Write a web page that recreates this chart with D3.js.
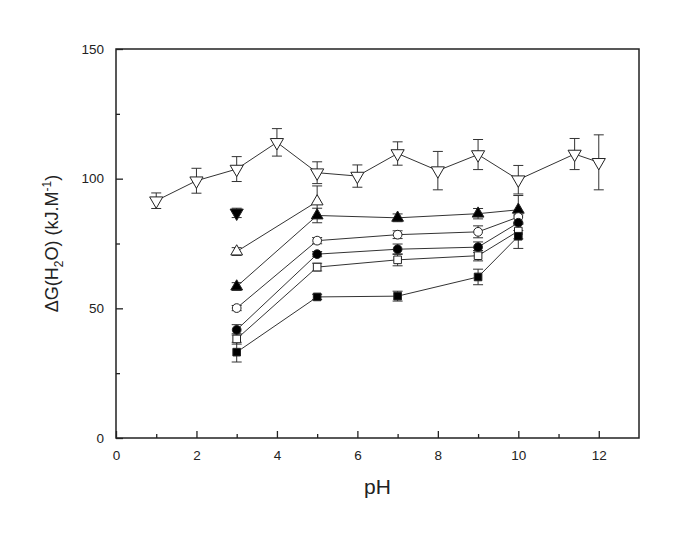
<!DOCTYPE html>
<html>
<head>
<meta charset="utf-8">
<script src="https://cdn.jsdelivr.net/npm/d3@7"></script>
<style>
  body { margin: 0; background: #fff; }
  svg { font-family: "Liberation Sans", Arial, sans-serif; }
</style>
</head>
<body>
<svg id="chart" width="685" height="541"></svg>
<script>
// ---- data ----
const openDownX   = [1, 2, 3, 4, 5, 6, 7, 8, 9, 10, 11.4, 12];
const openDownY   = [91.5, 99.2, 103.7, 114, 102.3, 101, 109.7, 103.1, 109.3, 99.6, 109.5, 106.3];
const openDownErr = [3, 4.8, 4.8, 5.3, 4.2, 4.3, 4.5, 7.4, 5.8, 5.5, 6, 10.6];

const filledDownX   = [3];
const filledDownY   = [86.8];
const filledDownErr = [1.8];

const openUpX   = [3, 5];
const openUpY   = [71.9, 91.2];
const openUpErr = [1.5, 6];

const phX = [3, 5, 7, 9, 10];
const filledUpY    = [58.4, 85.8, 84.9, 86.5, 88.0];
const filledUpErr  = [1.5, 2.8, 1.5, 2, 5.5];
const openCircY    = [50.1, 76.1, 78.4, 79.5, 85.2];
const openCircErr  = [1, 1.2, 1.5, 2.3, 2];
const filledCircY  = [41.7, 70.9, 72.8, 73.6, 83.0];
const filledCircErr= [2, 1, 2, 2, 3];
const openSqY      = [38.2, 65.9, 68.7, 70.3, 79.8];
const openSqErr    = [2, 1.5, 2.3, 2, 3];
const filledSqY    = [33.1, 54.4, 54.7, 62.1, 77.8];
const filledSqErr  = [3.8, 1, 1.9, 3, 4.7];

const xTicks = [0, 2, 4, 6, 8, 10, 12];
const xMinor = [1, 3, 5, 7, 9, 11];
const yTicks = [0, 50, 100, 150];
const yMinor = [25, 75, 125];

const series = [
  { x: openDownX,   y: openDownY,   e: openDownErr,   shape: 'tri', down: true,  fill: false },
  { x: filledDownX, y: filledDownY, e: filledDownErr, shape: 'tri', down: true,  fill: true },
  { x: openUpX,     y: openUpY,     e: openUpErr,     shape: 'tri', down: false, fill: false },
  { x: phX, y: filledUpY,   e: filledUpErr,   shape: 'tri',    down: false, fill: true },
  { x: phX, y: openCircY,   e: openCircErr,   shape: 'circle', fill: false },
  { x: phX, y: filledCircY, e: filledCircErr, shape: 'circle', fill: true },
  { x: phX, y: openSqY,     e: openSqErr,     shape: 'square', fill: false },
  { x: phX, y: filledSqY,   e: filledSqErr,   shape: 'square', fill: true }
];

// ---- layout ----
const svg = d3.select('#chart');
const L = 116, R = 639, T = 49, B = 438;
const x = d3.scaleLinear().domain([0, 13]).range([L, R]);
const y = d3.scaleLinear().domain([0, 150]).range([B, T]);
const ink = '#222';

// frame
svg.append('rect')
  .attr('x', L).attr('y', T).attr('width', R - L).attr('height', B - T)
  .attr('fill', 'none').attr('stroke', ink).attr('stroke-width', 1.5);

// x axis (ticks inward)
const xAxis = svg.append('g').attr('transform', `translate(0,${B})`)
  .call(d3.axisBottom(x).tickValues(xTicks).tickSizeInner(-7).tickSizeOuter(0).tickPadding(12));
xAxis.append('g').call(d3.axisBottom(x).tickValues(xMinor).tickSizeInner(-4).tickSizeOuter(0).tickFormat(''));

const yAxis = svg.append('g').attr('transform', `translate(${L},0)`)
  .call(d3.axisLeft(y).tickValues(yTicks).tickSizeInner(-7).tickSizeOuter(0).tickPadding(12));
yAxis.append('g').call(d3.axisLeft(y).tickValues(yMinor).tickSizeInner(-4).tickSizeOuter(0).tickFormat(''));

svg.selectAll('.domain').remove();
svg.selectAll('.tick line').attr('stroke', ink).attr('stroke-width', 1.3);
svg.selectAll('.tick text').attr('font-size', 13.5).attr('fill', ink)
  .attr('font-family', '"Liberation Sans", Arial, sans-serif');

// axis titles
svg.append('text')
  .attr('x', x(6.5)).attr('y', 494)
  .attr('text-anchor', 'middle').attr('font-size', 21).attr('fill', ink)
  .text('pH');

const yt = svg.append('text')
  .attr('transform', `translate(58,${(T + B) / 2}) rotate(-90)`)
  .attr('text-anchor', 'middle').attr('font-size', 18).attr('fill', ink);
yt.append('tspan').text('\u0394G(H');
yt.append('tspan').attr('font-size', 12).attr('dy', 5).text('2');
yt.append('tspan').attr('dy', -5).text('O) (kJ.M');
yt.append('tspan').attr('font-size', 12).attr('dy', -7).text('-1');
yt.append('tspan').attr('dy', 7).text(')');

// ---- marks ----
const plot = svg.append('g');
const line = d3.line().x(d => x(d[0])).y(d => y(d[1]));

series.forEach(s => {
  const pts = s.x.map((v, i) => [v, s.y[i], s.e[i]]);
  if (pts.length > 1) {
    plot.append('path').datum(pts).attr('d', line)
      .attr('fill', 'none').attr('stroke', '#333').attr('stroke-width', 1);
  }
});

series.forEach(s => {
  const pts = s.x.map((v, i) => [v, s.y[i], s.e[i]]);
  const g = plot.append('g').attr('stroke', '#333').attr('stroke-width', 1);
  pts.forEach(p => {
    const cx = x(p[0]), top = y(p[1] + p[2]), bot = y(p[1] - p[2]);
    g.append('line').attr('x1', cx).attr('x2', cx).attr('y1', top).attr('y2', bot);
    g.append('line').attr('x1', cx - 5).attr('x2', cx + 5).attr('y1', top).attr('y2', top);
    g.append('line').attr('x1', cx - 5).attr('x2', cx + 5).attr('y1', bot).attr('y2', bot);
  });
});

series.forEach(s => {
  const pts = s.x.map((v, i) => [v, s.y[i], s.e[i]]);
  let sym;
  if (s.shape === 'tri') sym = d3.symbol().type(d3.symbolTriangle).size(s.down ? 75 : 60);
  else if (s.shape === 'circle') sym = d3.symbol().type(d3.symbolCircle).size(60);
  else sym = d3.symbol().type(d3.symbolSquare).size(58);
  plot.append('g').selectAll('path').data(pts).join('path')
    .attr('d', sym)
    .attr('transform', d => `translate(${x(d[0])},${y(d[1])})` + (s.down ? ' rotate(180)' : ''))
    .attr('fill', s.fill ? '#000' : '#fff')
    .attr('stroke', '#222').attr('stroke-width', 1);
});
</script>
</body>
</html>
